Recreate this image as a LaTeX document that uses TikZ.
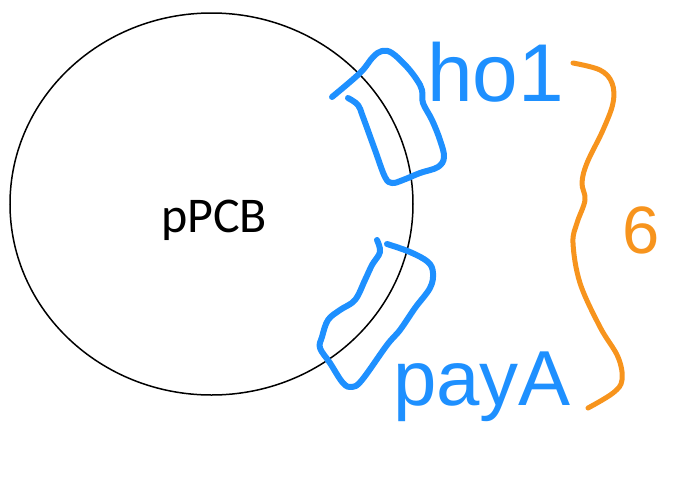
\documentclass[tikz,border=0pt]{standalone}
\usepackage{fontspec}
\setmainfont{Carlito}
\newfontfamily\handfont{Liberation Sans}
\usetikzlibrary{shapes.geometric}
\definecolor{penblue}{RGB}{30,144,255}
\definecolor{penorange}{RGB}{247,148,29}
\begin{document}
\begin{tikzpicture}[x=1pt, y=-1pt,
    bluepen/.style={draw=penblue, line width=6pt, line cap=round, line join=round},
    orangepen/.style={draw=penorange, line width=5pt, line cap=round, line join=round},
    handtext/.style={inner sep=0pt, anchor=base west}]
    \useasboundingbox (0,0) rectangle (673,483);
    \node[ellipse, draw, line width=1.5pt, inner sep=0pt, minimum width=403pt, minimum height=382pt] (pcb) at (211.5,204) {};
    \node[anchor=base, inner sep=0pt, font=\fontsize{50}{52}\selectfont] (pcblabel) at (214,232) {pPCB};
    \draw[bluepen] plot[smooth, tension=0.6] coordinates {(332,97) (360,73) (373,57) (382,51) (392,53) (407,67) (417,80) (422,90) (423,103) (432,120) (440,140) (444,157) (438,167) (420,173) (403,180) (392,183) (385,177) (375,150) (363,117) (358,105) (348,98)};
    \draw[bluepen] plot[smooth, tension=0.6] coordinates {(377,240) (380,252) (372,265) (365,280) (355,300) (340,310) (328,320) (322,337) (320,348) (330,363) (343,383) (352,387) (362,380) (387,345) (400,330) (415,308) (430,288) (433,273) (428,262) (410,252) (387,244)};
    \node[handtext, text=penblue, font=\handfont\fontsize{82}{84}\selectfont] (hol) at (427,101) {ho1};
    \node[handtext, text=penblue, font=\handfont\fontsize{78}{80}\selectfont] (paya) at (393,405) {payA};
    \draw[orangepen] plot[smooth, tension=0.6] coordinates {(573,63) (600,70) (612,83) (613,103) (603,130) (587,163) (582,183) (585,200) (577,223) (573,243) (580,283) (600,327) (618,357) (622,380) (613,393) (588,408)};
    \node[handtext, text=penorange, font=\handfont\fontsize{67}{70}\selectfont] (size) at (622,253) {6};
\end{tikzpicture}
\end{document}
